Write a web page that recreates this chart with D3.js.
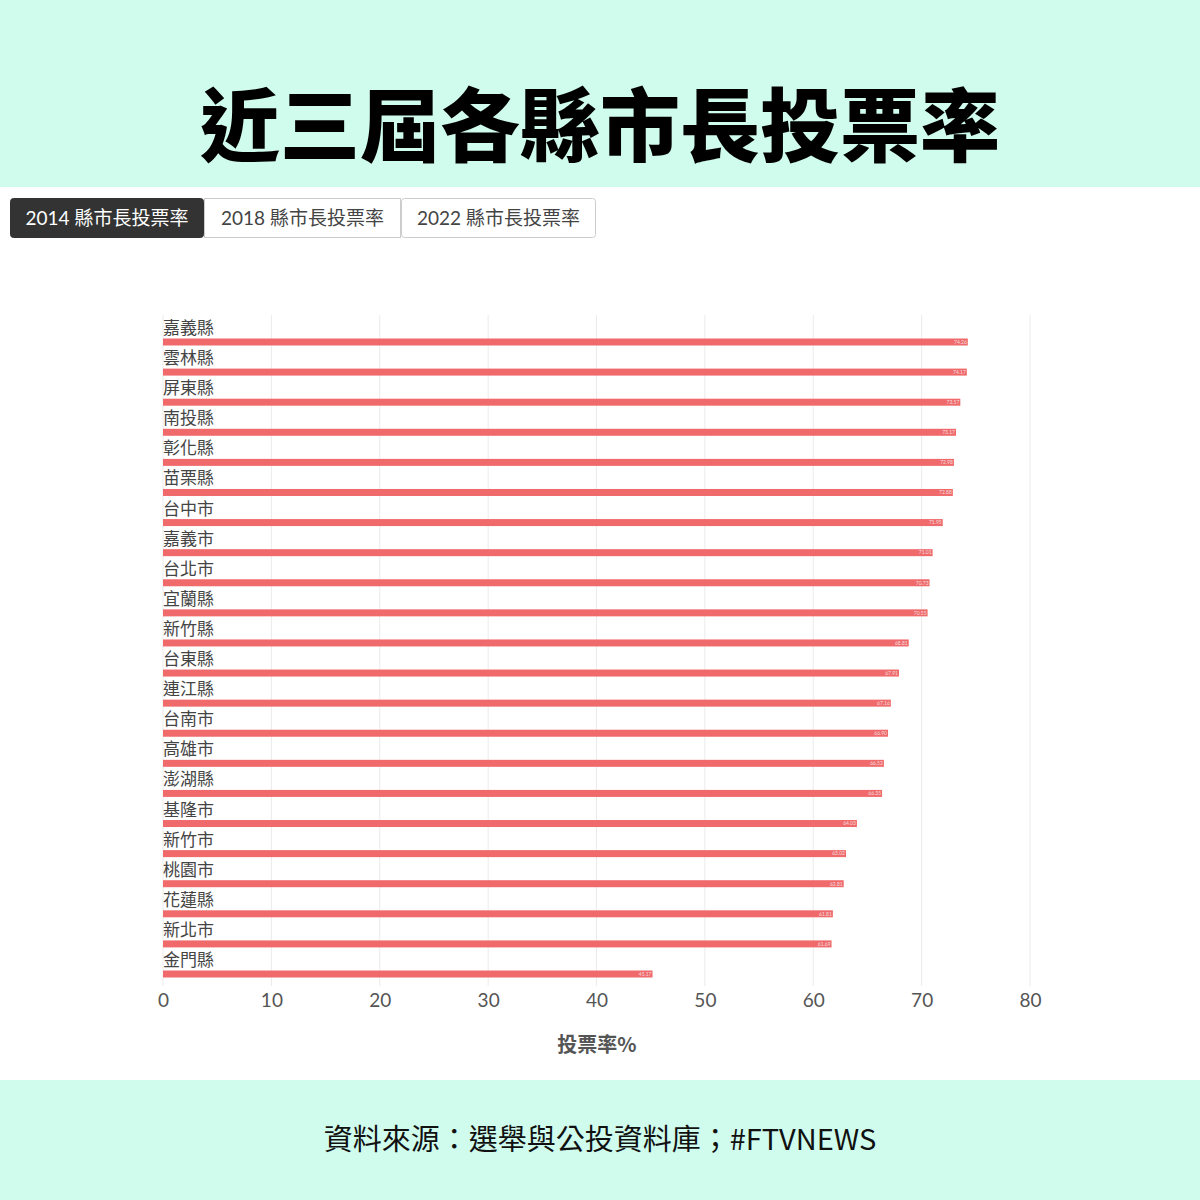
<!DOCTYPE html>
<html><head><meta charset="utf-8">
<script src="https://cdn.jsdelivr.net/npm/d3@7"></script>
<style>
html,body{margin:0;padding:0;background:#fff;}
body{width:1200px;height:1200px;overflow:hidden;font-family:"Noto Sans CJK TC","Noto Sans",sans-serif;}
</style></head>
<body>
<svg id="c" width="1200" height="1200"></svg>
<script>
const title = "近三屆各縣市長投票率";
const source = "資料來源：選舉與公投資料庫；#FTVNEWS";
const tabs = ["2014 縣市長投票率", "2018 縣市長投票率", "2022 縣市長投票率"];
const categories = ["嘉義縣","雲林縣","屏東縣","南投縣","彰化縣","苗栗縣","台中市","嘉義市","台北市","宜蘭縣","新竹縣","台東縣","連江縣","台南市","高雄市","澎湖縣","基隆市","新竹市","桃園市","花蓮縣","新北市","金門縣"];
const values = [74.26,74.17,73.57,73.17,72.98,72.88,71.95,71.01,70.73,70.55,68.81,67.91,67.16,66.90,66.52,66.35,64.03,63.02,62.81,61.81,61.69,45.17];
const xTicks = [0,10,20,30,40,50,60,70,80];
const xTitle = "投票率%";

const svg = d3.select("#c");
svg.append("rect").attr("x",0).attr("y",0).attr("width",1200).attr("height",187).attr("fill","#d0fcee");
svg.append("text").attr("x",600).attr("y",155).attr("text-anchor","middle")
  .attr("font-size",80).attr("font-weight",900).attr("fill","#000")
  .attr("font-family","Noto Sans CJK TC").text(title);
svg.append("rect").attr("x",0).attr("y",1080).attr("width",1200).attr("height",120).attr("fill","#d0fcee");
svg.append("text").attr("x",600).attr("y",1150).attr("text-anchor","middle")
  .attr("font-size",29).attr("fill","#111").attr("font-family","Noto Sans CJK TC").text(source);

const tabX = [10,204,401,596];
tabs.forEach((t,i)=>{
  svg.append("rect").attr("x",tabX[i]+0.5).attr("y",198.5).attr("width",tabX[i+1]-tabX[i]-1).attr("height",39)
    .attr("rx", i===0||i===2?3:0)
    .attr("fill", i===0?"#333":"#fff").attr("stroke", i===0?"#333":"#ccc");
  svg.append("text").attr("x",(tabX[i]+tabX[i+1])/2).attr("y",225).attr("text-anchor","middle")
    .attr("font-size",19).attr("fill", i===0?"#fff":"#444").attr("font-family","Lato, Noto Sans CJK TC").text(t);
});

const x = d3.scaleLinear().domain([0,80]).range([163,1030]);
const y = d3.scalePoint().domain(categories).range([342,974]);

const g = svg.append("g");
g.selectAll("line.grid").data(xTicks).join("line")
  .attr("x1",d=>x(d)).attr("x2",d=>x(d)).attr("y1",315).attr("y2",986)
  .attr("stroke","#ebebeb").attr("stroke-width",1);

const axis = d3.axisBottom(x).tickValues(xTicks).tickSize(0).tickPadding(0);
const ag = svg.append("g").attr("transform","translate(0,993)").call(axis);
ag.select(".domain").remove();
ag.selectAll("text").attr("font-size",19).attr("fill","#555").attr("font-family","Lato, sans-serif").attr("dy","0.71em");

svg.append("text").attr("x",597).attr("y",1052).attr("text-anchor","middle")
  .attr("font-size",20).attr("font-weight",700).attr("fill","#555").attr("font-family","Noto Sans CJK TC").text(xTitle);

const rows = g.selectAll("g.row").data(categories).join("g").attr("class","row");
rows.append("text").attr("x",163).attr("y",d=>y(d)-8).attr("font-size",17)
  .attr("fill","#444").attr("font-family","Noto Sans CJK TC").text(d=>d);
rows.append("rect").attr("x",x(0)).attr("y",d=>y(d)-3.5)
  .attr("width",(d,i)=>x(values[i])-x(0)).attr("height",7).attr("fill","#f06a6c");
rows.append("text").attr("x",(d,i)=>x(values[i])-1).attr("y",d=>y(d)+1.8)
  .attr("text-anchor","end").attr("font-size",5).attr("fill","#f2dede")
  .attr("font-family","Lato, sans-serif").text((d,i)=>values[i].toFixed(2));
</script>
</body></html>
